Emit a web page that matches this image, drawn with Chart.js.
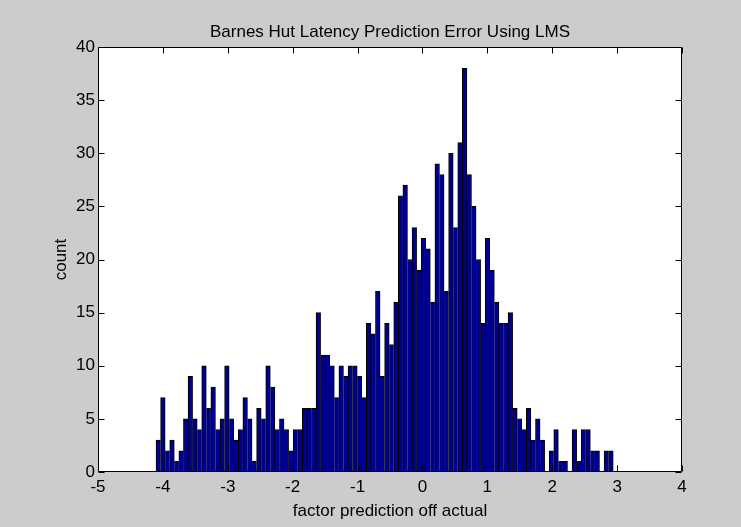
<!DOCTYPE html>
<html>
<head>
<meta charset="utf-8">
<script src="https://cdn.jsdelivr.net/npm/chart.js@4/dist/chart.umd.min.js"></script>
<style>
  html, body { margin: 0; padding: 0; background: #cccccc; }
  #wrap { width: 741px; height: 527px; }
</style>
</head>
<body>
<div id="wrap"><canvas id="c" width="741" height="527"></canvas></div>
<script>
// Histogram of latency prediction error: 100 equal bins between the lowest and highest error.
const binLow = -4.106;
const binHigh = 2.940;
const counts = [
  3, 7, 2, 3, 1, 2, 5, 9, 5, 4, 10, 6, 8, 4, 5, 10,
  5, 3, 4, 7, 5, 1, 6, 5, 10, 8, 4, 5, 4, 2, 4, 4,
  6, 6, 6,
  15, 11, 11, 10, 7, 10, 9, 10, 10, 9, 7, 14, 13, 17, 9, 14, 12, 16,
  26, 27, 20, 23, 19, 22, 21, 16, 29, 28, 17, 30, 23, 31, 38, 28, 25,
  20, 14, 22, 19, 16, 14, 14, 15, 6, 5, 4, 6, 3, 5, 3, 0,
  2, 4, 1, 1, 0, 4, 1, 4, 4, 2, 2, 0, 2, 2
];
const xTicks = [-5, -4, -3, -2, -1, 0, 1, 2, 3, 4];
const yTicks = [0, 5, 10, 15, 20, 25, 30, 35, 40];

const titleText = 'Barnes Hut Latency Prediction Error Using LMS';
const xLabel = 'factor prediction off actual';
const yLabel = 'count';

const FONT = "'Liberation Sans', Arial, Helvetica, sans-serif";
const FONT_SIZE = 17;
const FIG_BG = '#cccccc';
const BAR_FILL = '#00008f';

const binWidth = (binHigh - binLow) / counts.length;
const points = counts.map((n, i) => ({ x: binLow + (i + 0.5) * binWidth, y: n }));

// White axes box, black frame and inward tick marks on all four sides.
const axesBox = {
  id: 'axesBox',
  beforeDraw(chart) {
    const { ctx, chartArea: a } = chart;
    ctx.save();
    ctx.fillStyle = FIG_BG;
    ctx.fillRect(0, 0, chart.width, chart.height);
    ctx.fillStyle = '#ffffff';
    ctx.fillRect(a.left, a.top, a.right - a.left, a.bottom - a.top);
    ctx.restore();
  },
  afterDatasetsDraw(chart) {
    const { ctx, chartArea: a, scales } = chart;
    const L = Math.round(a.left) + 0.5, R = Math.round(a.right) - 0.5;
    const T = Math.round(a.top) + 0.5, B = Math.round(a.bottom) - 0.5;
    const len = 6;
    ctx.save();
    ctx.strokeStyle = '#000000';
    ctx.lineWidth = 1;
    ctx.beginPath();
    ctx.rect(L, T, R - L, B - T);
    xTicks.forEach(v => {
      const px = Math.round(scales.x.getPixelForValue(v)) + 0.5;
      ctx.moveTo(px, B); ctx.lineTo(px, B - len);
      ctx.moveTo(px, T); ctx.lineTo(px, T + len);
    });
    yTicks.forEach(v => {
      const py = Math.round(scales.y.getPixelForValue(v)) + 0.5;
      ctx.moveTo(L, py); ctx.lineTo(L + len, py);
      ctx.moveTo(R, py); ctx.lineTo(R - len, py);
    });
    ctx.stroke();
    ctx.restore();
  }
};

// One black line between neighbouring bars, drawn by the taller of the two.
function edgeWidths(c) {
  const i = c.dataIndex;
  const h = counts[i];
  const prev = i > 0 ? counts[i - 1] : -1;
  const next = i < counts.length - 1 ? counts[i + 1] : -1;
  return { top: 1, bottom: 0, left: h >= prev ? 1 : 0, right: h > next ? 1 : 0 };
}

new Chart(document.getElementById('c'), {
  type: 'bar',
  data: {
    datasets: [{
      data: points,
      backgroundColor: BAR_FILL,
      borderColor: '#000000',
      borderWidth: edgeWidths,
      borderSkipped: false,
      barPercentage: 1,
      categoryPercentage: 1
    }]
  },
  options: {
    responsive: false,
    animation: false,
    devicePixelRatio: 1,
    layout: { padding: { left: 0, right: 59, top: 0, bottom: 0 } },
    plugins: {
      legend: { display: false },
      tooltip: { enabled: false },
      title: {
        display: true,
        fullSize: false,
        text: titleText,
        color: '#000000',
        font: { family: FONT, size: FONT_SIZE, weight: 'normal', lineHeight: 1.2 },
        padding: { top: 22, bottom: 4.6 }
      }
    },
    scales: {
      x: {
        type: 'linear',
        min: -5,
        max: 4,
        offset: false,
        afterFit(s) { s.height = 55; },
        afterBuildTicks(s) { s.ticks = xTicks.map(v => ({ value: v })); },
        grid: { display: false, drawTicks: false, offset: false },
        border: { display: false },
        ticks: {
          color: '#000000',
          padding: 5,
          maxRotation: 0,
          autoSkip: false,
          font: { family: FONT, size: FONT_SIZE }
        },
        title: {
          display: true,
          text: xLabel,
          color: '#000000',
          font: { family: FONT, size: FONT_SIZE, lineHeight: 1.2 },
          padding: { top: 0, bottom: 5 }
        }
      },
      y: {
        type: 'linear',
        min: 0,
        max: 40,
        afterFit(s) { s.width = 98; },
        afterBuildTicks(s) { s.ticks = yTicks.map(v => ({ value: v })); },
        grid: { display: false, drawTicks: false },
        border: { display: false },
        ticks: {
          color: '#000000',
          padding: 3,
          autoSkip: false,
          font: { family: FONT, size: FONT_SIZE }
        },
        title: {
          display: true,
          text: yLabel,
          color: '#000000',
          font: { family: FONT, size: FONT_SIZE, lineHeight: 1.2 },
          padding: { top: 51, bottom: 0 }
        }
      }
    }
  },
  plugins: [axesBox]
});
</script>
</body>
</html>
